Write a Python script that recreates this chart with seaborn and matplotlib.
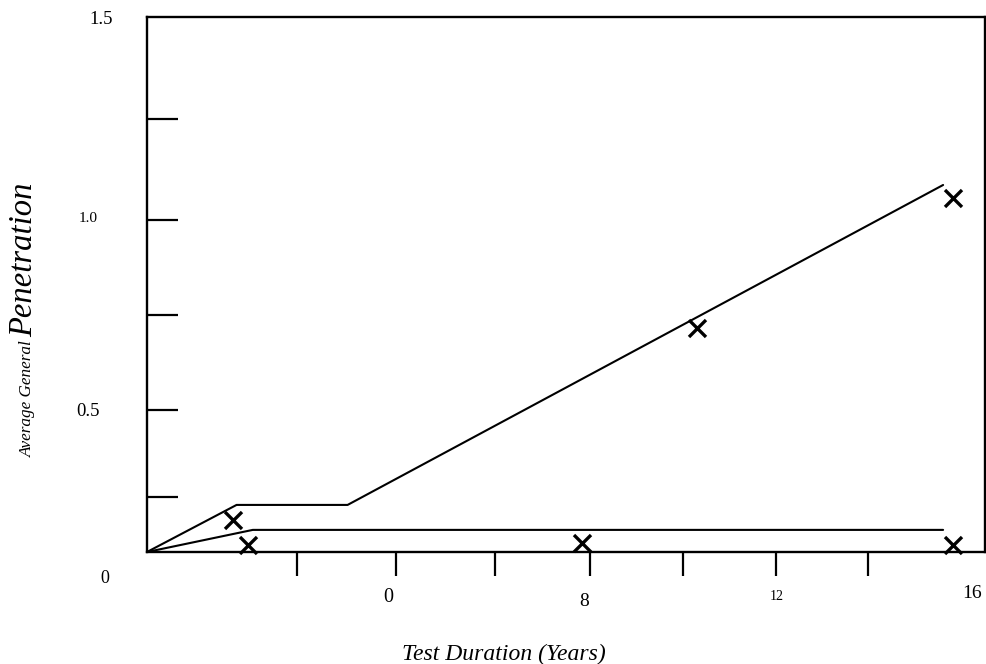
import matplotlib
matplotlib.use("Agg")
import matplotlib.pyplot as plt
import matplotlib.transforms as mtransforms
import seaborn as sns
import pandas as pd

# ---- data ----
upper_x = [0.0, 1.71, 3.83, 15.20]
upper_y = [0.0, 0.132, 0.132, 1.029]
lower_x = [0.0, 2.02, 15.20]
lower_y = [0.0, 0.062, 0.062]
marker_x = [1.64, 1.93, 8.31, 10.51, 15.39, 15.39]
marker_y = [0.090, 0.020, 0.025, 0.628, 0.993, 0.020]

x_tick_marks = [2.86, 4.75, 6.64, 8.45, 10.24, 12.01, 13.77]
x_tick_labels = ["0", "8", "12", "16"]
x_label_pos = [4.60, 8.35, 12.03, 15.75]
x_label_sizes = [14.5, 14, 10, 14]
x_label_ypx = [597, 602, 597, 594]

y_tick_marks = [0.154, 0.398, 0.664, 0.931, 1.214]
y_tick_labels = ["1.5", "1.0", "0.5", "0"]
y_label_pos = [1.494, 0.936, 0.395, -0.073]
y_label_xpx = [101, 88, 88, 105]
y_label_sizes = [13.5, 11, 13.5, 13]

df_upper = pd.DataFrame({"x": upper_x, "y": upper_y})
df_lower = pd.DataFrame({"x": lower_x, "y": lower_y})
df_mark = pd.DataFrame({"x": marker_x, "y": marker_y})

sns.set_theme(style="white")
plt.rcParams["font.family"] = ["Liberation Serif", "DejaVu Serif"]

W, H = 987, 664
fig = plt.figure(figsize=(W / 100, H / 100), dpi=100)
ax = fig.add_axes([147 / W, 1 - 552 / H, (985 - 147) / W, (552 - 17) / H])

sns.lineplot(data=df_upper, x="x", y="y", sort=False, estimator=None,
             color="black", linewidth=1.5, ax=ax)
sns.lineplot(data=df_lower, x="x", y="y", sort=False, estimator=None,
             color="black", linewidth=1.5, ax=ax)
sns.scatterplot(data=df_mark, x="x", y="y", marker="x", s=150,
                color="black", linewidth=2.4, ax=ax, zorder=5)
for c in ax.collections:
    c.set_clip_on(False)

ax.set_xlim(0, 16)
ax.set_ylim(0, 1.5)
for s in ax.spines.values():
    s.set_visible(True)
    s.set_color("black")
    s.set_linewidth(1.7)

ax.set_xticks(x_tick_marks)
ax.set_xticklabels([])
ax.tick_params(axis="x", direction="out", length=17, width=1.6,
               color="black", bottom=True)
ax.set_yticks(y_tick_marks)
ax.set_yticklabels([])
ax.tick_params(axis="y", direction="in", length=22, width=1.6,
               color="black", left=True)
ax.set_xlabel("")
ax.set_ylabel("")

# x tick labels
tx = mtransforms.blended_transform_factory(ax.transData, fig.transFigure)
for lab, pos, sz, ypx in zip(x_tick_labels, x_label_pos, x_label_sizes, x_label_ypx):
    fig.text(pos, 1 - ypx / H, lab, transform=tx, ha="center", va="center",
             fontsize=sz, color="black")

# y tick labels
ty = mtransforms.blended_transform_factory(fig.transFigure, ax.transData)
for lab, pos, sz, xpx in zip(y_tick_labels, y_label_pos, y_label_sizes, y_label_xpx):
    fig.text(xpx / W, pos, lab, transform=ty, ha="center", va="center",
             fontsize=sz, color="black")

# axis titles
fig.text(504 / W, 1 - 660 / H, "Test Duration (Years)", ha="center",
         va="baseline", fontsize=17, style="italic", color="black")
fig.text(32 / W, 1 - 457 / H, "Average General", rotation=90,
         rotation_mode="anchor", ha="left", va="baseline", fontsize=12.3,
         style="italic", color="black")
fig.text(32 / W, 1 - 337 / H, "Penetration", rotation=90,
         rotation_mode="anchor", ha="left", va="baseline", fontsize=23.5,
         style="italic", color="black")

fig.savefig("out.png", dpi=100, facecolor="white")
